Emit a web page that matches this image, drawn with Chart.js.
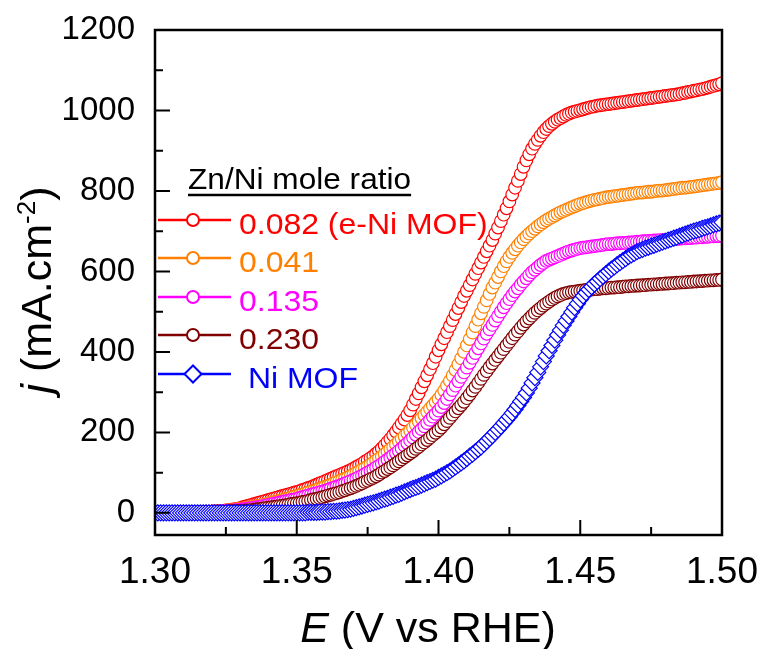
<!DOCTYPE html>
<html>
<head>
<meta charset="utf-8">
<script src="https://cdn.jsdelivr.net/npm/chart.js@4.4.0/dist/chart.umd.min.js"></script>
<style>
  html, body { margin: 0; padding: 0; background: #fff; }
</style>
</head>
<body>
<canvas id="chart" width="769" height="649"></canvas>
<script>
// potential (V vs RHE), 1 mV steps
const potential = [
  1.300,1.301,1.302,1.303,1.304,1.305,1.306,1.307,1.308,1.309,
  1.310,1.311,1.312,1.313,1.314,1.315,1.316,1.317,1.318,1.319,
  1.320,1.321,1.322,1.323,1.324,1.325,1.326,1.327,1.328,1.329,
  1.330,1.331,1.332,1.333,1.334,1.335,1.336,1.337,1.338,1.339,
  1.340,1.341,1.342,1.343,1.344,1.345,1.346,1.347,1.348,1.349,
  1.350,1.351,1.352,1.353,1.354,1.355,1.356,1.357,1.358,1.359,
  1.360,1.361,1.362,1.363,1.364,1.365,1.366,1.367,1.368,1.369,
  1.370,1.371,1.372,1.373,1.374,1.375,1.376,1.377,1.378,1.379,
  1.380,1.381,1.382,1.383,1.384,1.385,1.386,1.387,1.388,1.389,
  1.390,1.391,1.392,1.393,1.394,1.395,1.396,1.397,1.398,1.399,
  1.400,1.401,1.402,1.403,1.404,1.405,1.406,1.407,1.408,1.409,
  1.410,1.411,1.412,1.413,1.414,1.415,1.416,1.417,1.418,1.419,
  1.420,1.421,1.422,1.423,1.424,1.425,1.426,1.427,1.428,1.429,
  1.430,1.431,1.432,1.433,1.434,1.435,1.436,1.437,1.438,1.439,
  1.440,1.441,1.442,1.443,1.444,1.445,1.446,1.447,1.448,1.449,
  1.450,1.451,1.452,1.453,1.454,1.455,1.456,1.457,1.458,1.459,
  1.460,1.461,1.462,1.463,1.464,1.465,1.466,1.467,1.468,1.469,
  1.470,1.471,1.472,1.473,1.474,1.475,1.476,1.477,1.478,1.479,
  1.480,1.481,1.482,1.483,1.484,1.485,1.486,1.487,1.488,1.489,
  1.490,1.491,1.492,1.493,1.494,1.495,1.496,1.497,1.498,1.499,
  1.500
];

// current density j (mA cm-2) for each Zn/Ni ratio
const j0082 = [
  0,0,0,0,0,0,0,1,1,1,
  1,1,1,1,2,2,2,2,3,3,
  3,4,4,5,5,6,7,8,9,10,
  12,14,16,18,20,22,24,26,28,30,
  32,34,36,38,40,42,44,46,48,50,
  52,54,57,59,62,64,67,70,73,76,
  79,82,85,88,91,94,97,100,103,106,
  110,114,118,122,127,131,136,141,147,153,
  160,168,176,184,193,202,212,222,232,243,
  255,269,283,297,312,327,342,357,372,388,
  404,419,434,449,464,479,494,509,524,539,
  552,566,580,594,608,622,636,650,664,678,
  694,709,725,741,757,774,791,808,825,842,
  860,876,891,905,917,927,937,946,954,961,
  967,972,977,981,985,989,992,995,997,999,
  1001,1003,1005,1007,1009,1010,1012,1013,1014,1015,
  1016,1017,1018,1019,1020,1021,1022,1023,1024,1025,
  1026,1027,1028,1029,1030,1031,1032,1033,1034,1035,
  1036,1037,1038,1039,1040,1041,1043,1044,1046,1047,
  1049,1050,1052,1053,1055,1057,1059,1061,1063,1065,
  1068
];
const j0041 = [
  0,0,0,0,0,0,0,0,1,1,
  1,1,1,1,2,2,2,2,3,3,
  3,4,4,5,5,6,6,7,8,9,
  10,11,12,13,14,15,17,18,20,21,
  23,25,27,28,30,32,34,36,38,40,
  42,44,46,48,51,53,55,57,60,62,
  65,67,70,73,76,79,82,85,88,91,
  95,99,103,107,111,115,120,125,130,135,
  140,146,152,158,164,170,177,184,191,198,
  205,212,219,227,235,243,251,259,267,275,
  283,293,304,316,328,341,355,369,384,400,
  416,432,448,464,480,496,512,528,544,560,
  572,586,600,613,625,636,646,655,664,672,
  680,687,694,700,706,712,717,722,727,731,
  735,739,743,747,750,753,756,759,762,765,
  768,770,772,774,776,778,779,781,782,784,
  785,786,787,788,789,790,791,792,793,794,
  795,796,796,797,798,798,799,800,801,801,
  802,803,804,805,806,807,808,808,809,810,
  811,812,813,814,815,816,817,818,819,820,
  822
];
const j0135 = [
  0,0,0,0,0,0,0,0,0,1,
  1,1,1,1,1,2,2,2,2,2,
  3,3,3,4,4,5,5,6,6,7,
  8,9,10,11,12,13,14,15,17,18,
  20,21,23,24,26,27,29,30,32,33,
  35,37,39,41,43,45,47,49,51,53,
  55,57,60,62,65,67,70,73,76,79,
  82,85,89,92,96,100,104,108,113,117,
  122,127,132,137,143,148,154,160,167,173,
  180,187,194,201,208,215,223,231,239,246,
  254,263,273,283,294,305,316,327,338,349,
  361,373,385,397,409,421,433,445,456,467,
  478,489,500,511,521,531,541,550,558,567,
  575,583,591,598,604,610,616,621,626,629,
  632,635,638,641,644,647,650,652,654,656,
  658,659,660,661,662,663,664,665,666,667,
  668,668,669,670,670,671,671,672,672,673,
  674,674,675,675,676,676,677,677,678,678,
  679,679,680,680,681,681,682,682,683,683,
  684,684,685,685,686,686,687,687,688,688,
  689
];
const j0230 = [
  0,0,0,0,0,0,0,0,0,0,
  1,1,1,1,1,1,1,2,2,2,
  2,2,3,3,3,3,4,4,4,5,
  5,5,6,6,7,8,9,10,11,12,
  13,14,15,16,17,18,19,20,22,23,
  24,25,27,28,30,32,34,35,37,39,
  41,43,45,47,49,51,54,56,59,61,
  64,67,70,73,77,80,84,87,91,95,
  100,104,109,113,118,123,128,133,138,143,
  148,153,159,164,170,175,181,187,193,199,
  205,212,220,228,236,244,252,260,268,276,
  285,294,304,313,323,333,343,352,362,371,
  380,389,398,407,416,425,434,443,451,460,
  468,476,483,490,497,503,509,515,520,525,
  530,534,538,541,544,546,548,549,550,551,
  552,553,554,554,555,556,556,557,558,558,
  559,560,560,561,561,562,563,563,564,564,
  565,565,566,566,567,567,568,568,569,569,
  570,570,571,571,572,572,573,573,574,574,
  575,575,576,576,577,577,578,578,579,579,
  580
];
const jNiMOF = [
  0,0,0,0,0,0,0,0,0,0,
  0,0,0,0,0,0,0,0,0,0,
  0,0,0,0,0,0,0,0,0,0,
  0,0,0,0,0,0,0,0,0,0,
  0,0,0,0,0,0,0,0,0,0,
  0,0,0,0,1,1,1,1,2,2,
  2,3,3,4,4,5,6,7,8,9,
  11,13,15,17,19,21,23,25,27,29,
  32,34,36,39,41,44,46,49,52,55,
  58,61,63,66,69,72,75,78,81,84,
  88,92,96,100,104,109,114,119,124,129,
  135,141,146,152,158,164,171,178,185,192,
  200,207,215,223,231,239,248,257,267,277,
  287,298,310,323,336,349,363,376,390,403,
  416,429,442,454,466,477,488,499,510,520,
  530,539,547,555,562,569,575,582,588,594,
  600,606,611,617,622,627,632,637,641,645,
  649,652,655,658,660,663,665,668,670,673,
  675,678,680,683,685,688,690,693,695,698,
  700,702,704,707,709,711,713,716,718,720,
  722
];

const seriesLabels = ['0.082 (e-Ni MOF)', '0.041', '0.135', '0.230', ' Ni MOF'];
const seriesColors = ['#ff0000', '#ff8000', '#ff00ff', '#800000', '#0000ff'];
const seriesData = [j0082, j0041, j0135, j0230, jNiMOF];

const xMajor = [1.30, 1.35, 1.40, 1.45, 1.50];
const xMinor = [1.325, 1.375, 1.425, 1.475];
const yMajor = [0, 200, 400, 600, 800, 1000, 1200];
const yMinor = [100, 300, 500, 700, 900, 1100];

const FAMILY = "'Liberation Sans', Arial, sans-serif";

// frame + inward ticks
const framePlugin = {
  id: 'frame',
  afterDatasetsDraw(chart) {
    const ctx = chart.ctx, a = chart.chartArea;
    const x = chart.scales.x, y = chart.scales.y;
    ctx.save();
    ctx.strokeStyle = '#000';
    ctx.lineWidth = 2.5;
    ctx.strokeRect(a.left, a.top, a.right - a.left, a.bottom - a.top);
    ctx.lineWidth = 2;
    ctx.beginPath();
    xMajor.forEach(v => { const p = x.getPixelForValue(v); ctx.moveTo(p, a.bottom); ctx.lineTo(p, a.bottom - 15); });
    xMinor.forEach(v => { const p = x.getPixelForValue(v); ctx.moveTo(p, a.bottom); ctx.lineTo(p, a.bottom - 8); });
    yMajor.forEach(v => { const p = y.getPixelForValue(v); ctx.moveTo(a.left, p); ctx.lineTo(a.left + 15, p); });
    yMinor.forEach(v => { const p = y.getPixelForValue(v); ctx.moveTo(a.left, p); ctx.lineTo(a.left + 8, p); });
    ctx.stroke();
    ctx.restore();
  }
};

// axis titles with italic symbols
const titlePlugin = {
  id: 'titles',
  afterDraw(chart) {
    const ctx = chart.ctx;
    ctx.save();
    ctx.fillStyle = '#000';
    ctx.textBaseline = 'alphabetic';
    ctx.textAlign = 'left';

    const itF = 'italic 43px ' + FAMILY, upF = '43px ' + FAMILY;
    ctx.font = itF; const wE = ctx.measureText('E').width;
    ctx.font = upF; const wRest = ctx.measureText(' (V vs RHE)').width;
    const x0 = 428 - (wE + wRest) / 2;
    ctx.font = itF; ctx.fillText('E', x0, 642);
    ctx.font = upF; ctx.fillText(' (V vs RHE)', x0 + wE, 642);

    ctx.translate(51, 290);
    ctx.rotate(-Math.PI / 2);
    const supF = '26px ' + FAMILY;
    ctx.font = itF; const wj = ctx.measureText('j').width;
    ctx.font = upF; const w1 = ctx.measureText(' (mA.cm').width;
    ctx.font = supF; const w2 = ctx.measureText('-2').width;
    ctx.font = upF; const w3 = ctx.measureText(')').width;
    let s = -(wj + w1 + w2 + w3) / 2;
    ctx.font = itF; ctx.fillText('j', s, 0); s += wj;
    ctx.font = upF; ctx.fillText(' (mA.cm', s, 0); s += w1;
    ctx.font = supF; ctx.fillText('-2', s, -16); s += w2;
    ctx.font = upF; ctx.fillText(')', s, 0);
    ctx.restore();
  }
};

// legend inside the plot
function wideText(ctx, txt, x, y, sx) {
  ctx.save();
  ctx.translate(x, y);
  ctx.scale(sx, 1);
  ctx.fillText(txt, 0, 0);
  ctx.restore();
}

const legendPlugin = {
  id: 'legendBox',
  afterDraw(chart) {
    const ctx = chart.ctx;
    ctx.save();
    ctx.textBaseline = 'alphabetic';
    ctx.textAlign = 'left';
    ctx.font = '29px ' + FAMILY;
    ctx.fillStyle = '#000';
    const title = 'Zn/Ni mole ratio';
    wideText(ctx, title, 188, 189, 1.09);
    const tw = ctx.measureText(title).width * 1.09;
    ctx.strokeStyle = '#000';
    ctx.lineWidth = 2.5;
    ctx.beginPath(); ctx.moveTo(188, 195); ctx.lineTo(188 + tw, 195); ctx.stroke();

    const rows = [220, 258, 297, 335, 374];
    ctx.font = '30px ' + FAMILY;
    seriesLabels.forEach((lab, i) => {
      const yy = rows[i], c = seriesColors[i];
      ctx.strokeStyle = c;
      ctx.lineWidth = 2.5;
      ctx.beginPath(); ctx.moveTo(158, yy); ctx.lineTo(231, yy); ctx.stroke();
      ctx.fillStyle = '#fff';
      ctx.lineWidth = 2;
      ctx.beginPath();
      if (i === 4) {
        ctx.moveTo(193 - 8.5, yy); ctx.lineTo(193, yy - 8.5); ctx.lineTo(193 + 8.5, yy); ctx.lineTo(193, yy + 8.5); ctx.closePath();
      } else {
        ctx.arc(193, yy, 6, 0, Math.PI * 2);
      }
      ctx.fill(); ctx.stroke();
      ctx.fillStyle = c;
      wideText(ctx, lab, 239, yy + 14, 1.065);
    });
    ctx.restore();
  }
};

const datasets = seriesData.map((arr, i) => ({
  label: seriesLabels[i],
  data: potential.map((e, k) => ({ x: e, y: arr[k] })),
  showLine: false,
  pointStyle: i === 4 ? 'rectRot' : 'circle',
  pointRadius: i === 4 ? 8 : 6.3,
  pointHoverRadius: i === 4 ? 8 : 6.3,
  pointBorderWidth: 1.2,
  pointBorderColor: seriesColors[i],
  pointBackgroundColor: '#fff',
  order: 5 - i
}));

new Chart(document.getElementById('chart'), {
  type: 'scatter',
  data: { datasets: datasets },
  options: {
    responsive: false,
    animation: false,
    devicePixelRatio: 1,
    layout: { padding: { left: 0, top: 30, right: 47, bottom: 0 } },
    plugins: { legend: { display: false }, tooltip: { enabled: false } },
    scales: {
      x: {
        type: 'linear', min: 1.30, max: 1.50,
        afterFit: s => { s.height = 114; s.paddingLeft = 0; s.paddingRight = 0; },
        afterBuildTicks: s => { s.ticks = xMajor.map(v => ({ value: v })); },
        grid: { display: false, drawTicks: false },
        border: { display: false },
        ticks: {
          font: { family: FAMILY, size: 37 }, color: '#000', padding: 16,
          maxRotation: 0, autoSkip: false,
          callback: v => Number(v).toFixed(2)
        }
      },
      y: {
        type: 'linear', min: -55, max: 1200,
        afterFit: s => { s.width = 155; s.paddingTop = 0; s.paddingBottom = 0; },
        afterBuildTicks: s => { s.ticks = yMajor.map(v => ({ value: v })); },
        grid: { display: false, drawTicks: false },
        border: { display: false },
        ticks: {
          font: { family: FAMILY, size: 33 }, color: '#000', padding: 20,
          autoSkip: false,
          callback: v => String(v)
        }
      }
    }
  },
  plugins: [framePlugin, titlePlugin, legendPlugin]
});
</script>
</body>
</html>
